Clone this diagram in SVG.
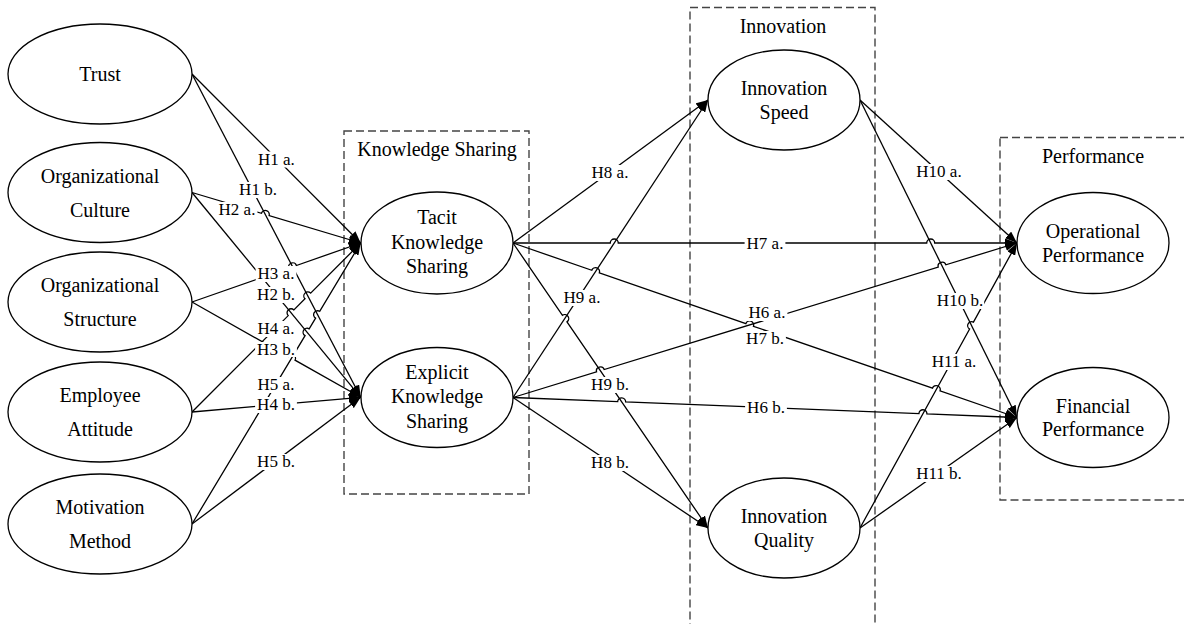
<svg xmlns="http://www.w3.org/2000/svg" width="1184" height="624" viewBox="0 0 1184 624">
  <style>
    .node ellipse { fill: #fff; stroke: #000; stroke-width: 1.3; }
    .node text, .frame text { font-family: "Liberation Serif", "Times New Roman", serif; font-size: 20px; fill: #000; text-anchor: middle; }
    .frame rect { fill: none; stroke: #444; stroke-width: 1.4; stroke-dasharray: 8 4; }
    .edges path { fill: none; stroke: #000; stroke-width: 1.3; marker-end: url(#arrow); }
    .labels rect { fill: #fff; stroke: none; }
    .labels text { font-family: "Liberation Serif", "Times New Roman", serif; font-size: 17px; fill: #000; text-anchor: middle; }
  </style>
  <defs>
    <marker id="arrow" markerUnits="userSpaceOnUse" viewBox="0 0 12 9" markerWidth="12" markerHeight="9" refX="12" refY="4.5" orient="auto">
      <path d="M0,0 L12,4.5 L0,9 z" fill="#000"/>
    </marker>
  </defs>

  <rect width="1184" height="624" fill="#fff"/>

  <!-- dashed construct frames -->
  <g id="frame-knowledge-sharing" class="frame">
    <rect x="344" y="131" width="185" height="363"/>
    <text x="437" y="156">Knowledge Sharing</text>
  </g>
  <g id="frame-innovation" class="frame">
    <rect x="690" y="7.5" width="185" height="625"/>
    <text x="783" y="33">Innovation</text>
  </g>
  <g id="frame-performance" class="frame">
    <rect x="1000" y="137.5" width="200" height="362.5"/>
    <text x="1093" y="163">Performance</text>
  </g>

  <!-- connectors -->
  <g id="connectors" class="edges">
    <!-- antecedents to tacit / explicit knowledge sharing -->
    <path id="e-h1a" d="M192,74 L360.7,243"/>
    <path id="e-h1b" d="M192,74 L360.7,397.3"/>
    <path id="e-h2a" d="M192,192.5 L261.45,213.29 A4,4 0 0 1 269.11,215.59 L360.7,243"/>
    <path id="e-h2b" d="M192,192.5 L360.7,397.3"/>
    <path id="e-h3a" d="M192,302 L288.83,268.13 A4,4 0 0 1 296.39,265.49 L360.7,243"/>
    <path id="e-h3b" d="M192,302 L288.05,356.25 A4,4 0 0 1 295.01,360.19 L360.7,397.3"/>
    <path id="e-h4a" d="M192,412 L288.23,315.59 A4,4 0 0 1 293.89,309.93 L304.99,298.80 A4,4 0 0 1 310.65,293.14 L360.7,243"/>
    <path id="e-h4b" d="M192,412 L360.7,397.3"/>
    <path id="e-h5a" d="M192,524 L305.06,335.68 A4,4 0 0 1 309.18,328.82 L315.57,318.17 A4,4 0 0 1 319.69,311.31 L360.7,243"/>
    <path id="e-h5b" d="M192,524 L360.7,397.3"/>

    <!-- knowledge sharing to innovation and performance -->
    <path id="e-h8a" d="M513,243 L708,100"/>
    <path id="e-h9a" d="M513,397.5 L708,100"/>
    <path id="e-h7a" d="M513,243 L610.27,243 A4,4 0 0 1 618.27,243 L926.71,243 A4,4 0 0 1 934.71,243 L1017,243"/>
    <path id="e-h7b" d="M513,243 L591.76,270.27 A4,4 0 0 1 599.32,272.89 L745.90,323.64 A4,4 0 0 1 753.46,326.26 L932.49,388.23 A4,4 0 0 1 940.05,390.85 L1017,417.5"/>
    <path id="e-h6a" d="M513,397.5 L596.56,371.88 A4,4 0 0 1 604.20,369.54 L938.24,267.14 A4,4 0 0 1 945.88,264.80 L1017,243"/>
    <path id="e-h6b" d="M513,397.5 L617.66,401.65 A4,4 0 0 1 625.66,401.97 L918.93,413.61 A4,4 0 0 1 926.93,413.93 L1017,417.5"/>
    <path id="e-h8b" d="M513,397.5 L708,528"/>
    <path id="e-h9b" d="M513,243 L562.46,315.29 A4,4 0 0 1 566.98,321.89 L708,528"/>

    <!-- innovation to performance -->
    <path id="e-h10a" d="M860,100 L1017,243"/>
    <path id="e-h10b" d="M860,100 L1017,417.5"/>
    <path id="e-h11a" d="M860,528 L969.61,329.07 A4,4 0 0 1 973.47,322.07 L1017,243"/>
    <path id="e-h11b" d="M860,528 L1017,417.5"/>
  </g>

  <!-- hypothesis labels (white backing breaks the lines) -->
  <g id="edge-labels" class="labels">
    <rect x="256" y="151.5" width="40.8" height="16"/><text x="276.4" y="164.5">H1 a.</text>
    <rect x="237.1" y="182" width="41.8" height="16"/><text x="258" y="195">H1 b.</text>
    <rect x="216.6" y="202" width="40.8" height="16"/><text x="237" y="215">H2 a.</text>
    <rect x="255.1" y="287" width="41.8" height="16"/><text x="276" y="300">H2 b.</text>
    <rect x="255.6" y="266" width="40.8" height="16"/><text x="276" y="279">H3 a.</text>
    <rect x="255.1" y="342" width="41.8" height="15"/><text x="276" y="355">H3 b.</text>
    <rect x="255.6" y="321" width="40.8" height="16"/><text x="276" y="334">H4 a.</text>
    <rect x="255.1" y="397" width="41.8" height="16"/><text x="276" y="410">H4 b.</text>
    <rect x="255.6" y="377" width="40.8" height="16"/><text x="276" y="390">H5 a.</text>
    <rect x="255.1" y="454" width="41.8" height="16"/><text x="276" y="467">H5 b.</text>

    <rect x="589.6" y="165" width="40.8" height="16"/><text x="610" y="178">H8 a.</text>
    <rect x="561.6" y="290" width="40.8" height="16"/><text x="582" y="303">H9 a.</text>
    <rect x="589.1" y="377" width="41.8" height="16"/><text x="610" y="390">H9 b.</text>
    <rect x="589.1" y="455" width="41.8" height="16"/><text x="610" y="468">H8 b.</text>
    <rect x="744.6" y="236" width="40.8" height="16"/><text x="765" y="249">H7 a.</text>
    <rect x="746.6" y="305" width="40.8" height="16"/><text x="767" y="318">H6 a.</text>
    <rect x="744.1" y="331" width="41.8" height="16"/><text x="765" y="344">H7 b.</text>
    <rect x="745.1" y="400" width="41.8" height="16"/><text x="766" y="413">H6 b.</text>

    <rect x="914.4" y="164" width="49.3" height="16"/><text x="939" y="177">H10 a.</text>
    <rect x="935.9" y="293" width="48.3" height="16"/><text x="960" y="306">H10 b.</text>
    <rect x="929.4" y="354" width="49.3" height="16"/><text x="954" y="367">H11 a.</text>
    <rect x="914.9" y="466" width="48.3" height="16"/><text x="939" y="479">H11 b.</text>
  </g>

  <!-- antecedent constructs -->
  <g id="n-trust" class="node">
    <ellipse cx="100" cy="74" rx="92" ry="50"/>
    <text x="100" y="81">Trust</text>
  </g>
  <g id="n-org-culture" class="node">
    <ellipse cx="100" cy="192.5" rx="92" ry="50"/>
    <text x="100" y="182.5">Organizational</text>
    <text x="100" y="216.5">Culture</text>
  </g>
  <g id="n-org-structure" class="node">
    <ellipse cx="100" cy="302" rx="92" ry="50"/>
    <text x="100" y="292">Organizational</text>
    <text x="100" y="326">Structure</text>
  </g>
  <g id="n-employee-attitude" class="node">
    <ellipse cx="100" cy="412" rx="92" ry="50"/>
    <text x="100" y="402">Employee</text>
    <text x="100" y="436">Attitude</text>
  </g>
  <g id="n-motivation-method" class="node">
    <ellipse cx="100" cy="524" rx="92" ry="50"/>
    <text x="100" y="514">Motivation</text>
    <text x="100" y="548">Method</text>
  </g>

  <!-- knowledge sharing constructs -->
  <g id="n-tacit" class="node">
    <ellipse cx="437" cy="243" rx="76" ry="51"/>
    <text x="437" y="224">Tacit</text>
    <text x="437" y="248.5">Knowledge</text>
    <text x="437" y="273">Sharing</text>
  </g>
  <g id="n-explicit" class="node">
    <ellipse cx="437" cy="397.5" rx="76" ry="50"/>
    <text x="437" y="378.5">Explicit</text>
    <text x="437" y="403">Knowledge</text>
    <text x="437" y="427.5">Sharing</text>
  </g>

  <!-- innovation constructs -->
  <g id="n-innovation-speed" class="node">
    <ellipse cx="784" cy="100" rx="76" ry="50"/>
    <text x="784" y="95">Innovation</text>
    <text x="784" y="118.5">Speed</text>
  </g>
  <g id="n-innovation-quality" class="node">
    <ellipse cx="784" cy="528" rx="76" ry="50"/>
    <text x="784" y="523">Innovation</text>
    <text x="784" y="546.5">Quality</text>
  </g>

  <!-- performance constructs -->
  <g id="n-operational" class="node">
    <ellipse cx="1093" cy="243" rx="76" ry="50.5"/>
    <text x="1093" y="238">Operational</text>
    <text x="1093" y="261.5">Performance</text>
  </g>
  <g id="n-financial" class="node">
    <ellipse cx="1093" cy="417.5" rx="76" ry="50"/>
    <text x="1093" y="412.5">Financial</text>
    <text x="1093" y="436">Performance</text>
  </g>
</svg>
